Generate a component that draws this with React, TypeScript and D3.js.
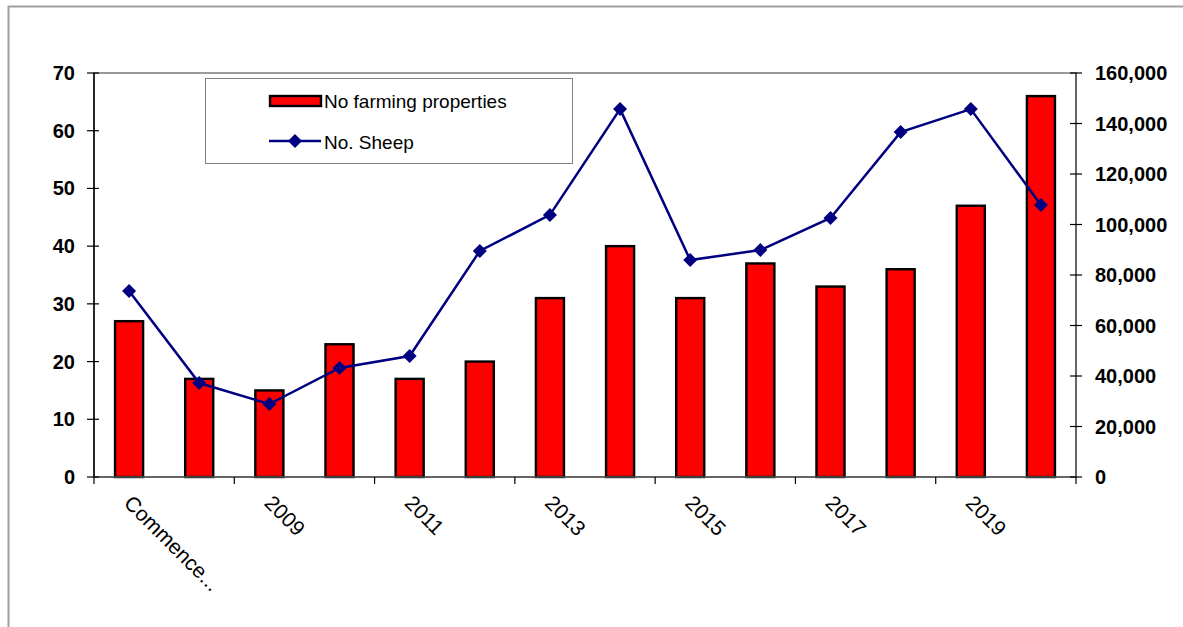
import React from "react";
import * as d3 from "d3";

const categories = ["Commence...", "2008", "2009", "2010", "2011", "2012", "2013", "2014", "2015", "2016", "2017", "2018", "2019", "2020"];
const shownLabels = ["Commence...", "2009", "2011", "2013", "2015", "2017", "2019"];
const properties = [27, 17, 15, 23, 17, 20, 31, 40, 31, 37, 33, 36, 47, 66];
const sheep = [73700, 37200, 28900, 43200, 47900, 89500, 103800, 145700, 85900, 89900, 102600, 136600, 145700, 107700];
const leftTicks = [0, 10, 20, 30, 40, 50, 60, 70];
const rightTicks = [0, 20000, 40000, 60000, 80000, 100000, 120000, 140000, 160000];
const seriesNames = ["No farming properties", "No. Sheep"];

const W = 1183, H = 627;
const L = 94, R = 1076, T = 73, B = 477;
const FONT = "Liberation Sans, Arial, sans-serif";

export default function App() {
  const x = d3.scaleBand<string>().domain(categories).range([L, R]).paddingInner(0).paddingOuter(0);
  const yL = d3.scaleLinear().domain([0, 70]).range([B, T]);
  const yR = d3.scaleLinear().domain([0, 160000]).range([B, T]);
  const bw = x.bandwidth() * 0.4;
  const fmt = d3.format(",");
  const line = d3.line<number>()
    .x((_, i) => (x(categories[i]) as number) + x.bandwidth() / 2)
    .y((d) => yR(d));
  const diamond = (cx: number, cy: number, r: number) =>
    `M${cx},${cy - r}L${cx + r},${cy}L${cx},${cy + r}L${cx - r},${cy}Z`;
  const tickIdx = categories.map((_, i) => i).filter((i) => i % 2 === 0);

  return (
    <svg width={W} height={H} style={{ position: "absolute", left: 0, top: 0, background: "#fff" }}>
      <rect x={8.5} y={6.5} width={W + 20} height={H + 20} fill="#fff" stroke="#a0a0a0" strokeWidth={2} />
      {/* plot border */}
      <rect x={L} y={T} width={R - L} height={B - T} fill="#fff" stroke="#9a9a9a" strokeWidth={2} />
      {/* bars */}
      {properties.map((v, i) => {
        const cx = (x(categories[i]) as number) + x.bandwidth() / 2;
        return (
          <rect key={i} x={cx - bw / 2} y={yL(v)} width={bw} height={B - yL(v)} fill="#ff0000" stroke="#000" strokeWidth={2.4} />
        );
      })}
      {/* axes */}
      <line x1={L} x2={L} y1={T} y2={B} stroke="#000" strokeWidth={1.5} />
      <line x1={R} x2={R} y1={T} y2={B} stroke="#555" strokeWidth={1.5} />
      <line x1={L} x2={R} y1={B} y2={B} stroke="#555" strokeWidth={1.5} />
      {leftTicks.map((t) => (
        <g key={"l" + t}>
          <line x1={L - 7} x2={L + 5} y1={yL(t)} y2={yL(t)} stroke="#000" strokeWidth={1.2} />
          <text x={L - 19} y={yL(t)} dy="0.35em" textAnchor="end" fontFamily={FONT} fontWeight="bold" fontSize={20}>{t}</text>
        </g>
      ))}
      {rightTicks.map((t) => (
        <g key={"r" + t}>
          <line x1={R - 6} x2={R + 6} y1={yR(t)} y2={yR(t)} stroke="#000" strokeWidth={1.2} />
          <text x={R + 19} y={yR(t)} dy="0.35em" textAnchor="start" fontFamily={FONT} fontWeight="bold" fontSize={20}>{fmt(t)}</text>
        </g>
      ))}
      {tickIdx.map((i) => (
        <line key={"b" + i} x1={x(categories[i]) as number} x2={x(categories[i]) as number} y1={B} y2={B + 7} stroke="#000" strokeWidth={1.2} />
      ))}
      <line x1={R} x2={R} y1={B} y2={B + 7} stroke="#000" strokeWidth={1.2} />
      {tickIdx.map((i, k) => {
        const cx = (x(categories[i]) as number) + x.bandwidth() / 2 - 1;
        return (
          <text key={"xl" + i} transform={`translate(${cx},${B + 22}) rotate(45)`} fontFamily={FONT} fontSize={21} textAnchor="start" dy="0.35em">{shownLabels[k]}</text>
        );
      })}
      {/* line */}
      <path d={line(sheep) || ""} fill="none" stroke="#000080" strokeWidth={2.5} />
      {sheep.map((v, i) => {
        const cx = (x(categories[i]) as number) + x.bandwidth() / 2;
        return <path key={"m" + i} d={diamond(cx, yR(v), 7)} fill="#000080" />;
      })}
      {/* legend */}
      <rect x={205.5} y={78.5} width={367} height={85} fill="#fff" stroke="#808080" strokeWidth={1} />
      <rect x={270} y={96} width={51} height={10} fill="#ff0000" stroke="#000" strokeWidth={2.4} />
      <text x={324} y={101} dy="0.35em" fontFamily={FONT} fontSize={19}>{seriesNames[0]}</text>
      <line x1={269} x2={321} y1={141} y2={141} stroke="#000080" strokeWidth={2.5} />
      <path d={diamond(295, 141, 7)} fill="#000080" />
      <text x={324} y={142} dy="0.35em" fontFamily={FONT} fontSize={19}>{seriesNames[1]}</text>
    </svg>
  );
}
